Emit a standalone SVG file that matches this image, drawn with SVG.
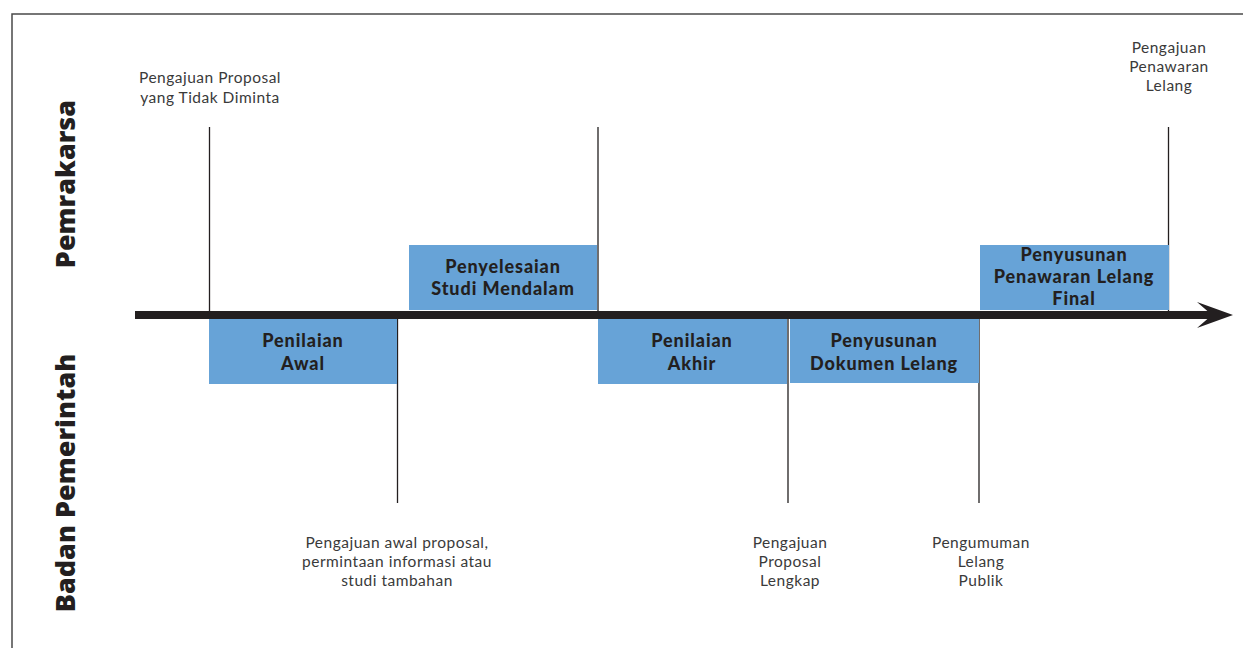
<svg xmlns="http://www.w3.org/2000/svg" width="1243" height="648" viewBox="0 0 1243 648">
<style>
.frame{fill:none;stroke:#4a4a4a;stroke-width:1.5}
.box{fill:#67a3d7}
.tick{stroke:#231f20;stroke-width:1.3}
.bt{font-family:Lato,"Open Sans",sans-serif;font-weight:900;font-size:18px;letter-spacing:0.9px;fill:#231f20;text-anchor:middle}
.st{font-family:Lato,"Open Sans",sans-serif;font-size:15.5px;letter-spacing:0.5px;fill:#3a3a3a;text-anchor:middle}
.side{font-family:"Open Sans","Noto Sans",sans-serif;font-weight:800;font-size:27px;fill:#231f20;text-anchor:middle}
</style>
<rect width="1243" height="648" fill="#fff"/>
<path class="frame" d="M12,650 V14 H1245"/>
<text class="side" transform="translate(75,184) rotate(-90)">Pemrakarsa</text>
<text class="side" transform="translate(75,483) rotate(-90)">Badan Pemerintah</text>
<g id="connectors">
<line class="tick" x1="209.5" y1="127" x2="209.5" y2="311"/>
<line class="tick" x1="598" y1="127" x2="598" y2="311"/>
<line class="tick" x1="1168.5" y1="127" x2="1168.5" y2="311"/>
<line class="tick" x1="397.5" y1="319" x2="397.5" y2="503"/>
<line class="tick" x1="788" y1="319" x2="788" y2="503"/>
<line class="tick" x1="979" y1="319" x2="979" y2="503"/>
<rect x="135" y="311" width="1082" height="8" fill="#231f20"/>
<path d="M1233,315 L1197,302 L1212,315 L1197,328 Z" fill="#231f20"/>
</g>
<g id="penilaian-awal">
<rect class="box" x="209" y="319" width="188" height="65"/>
<text class="bt" x="303" y="347">Penilaian</text>
<text class="bt" x="303" y="370">Awal</text>
</g>
<g id="penyelesaian-studi">
<rect class="box" x="409" y="245" width="188" height="65"/>
<text class="bt" x="503" y="273">Penyelesaian</text>
<text class="bt" x="503" y="295">Studi Mendalam</text>
</g>
<g id="penilaian-akhir">
<rect class="box" x="598" y="319" width="189" height="65"/>
<text class="bt" x="692" y="347">Penilaian</text>
<text class="bt" x="692" y="370">Akhir</text>
</g>
<g id="penyusunan-dokumen">
<rect class="box" x="790" y="319" width="189" height="64"/>
<text class="bt" x="884" y="347">Penyusunan</text>
<text class="bt" x="884" y="370">Dokumen Lelang</text>
</g>
<g id="penyusunan-penawaran">
<rect class="box" x="980" y="245" width="189" height="65"/>
<text class="bt" x="1074" y="261">Penyusunan</text>
<text class="bt" x="1074" y="283">Penawaran Lelang</text>
<text class="bt" x="1074" y="305">Final</text>
</g>
<g id="label-proposal-tidak-diminta">
<text class="st" x="210" y="83">Pengajuan Proposal</text>
<text class="st" x="210" y="103">yang Tidak Diminta</text>
</g>
<g id="label-penawaran-lelang">
<text class="st" x="1169" y="53">Pengajuan</text>
<text class="st" x="1169" y="72">Penawaran</text>
<text class="st" x="1169" y="91">Lelang</text>
</g>
<g id="label-pengajuan-awal">
<text class="st" x="397" y="548">Pengajuan awal proposal,</text>
<text class="st" x="397" y="567">permintaan informasi atau</text>
<text class="st" x="397" y="586">studi tambahan</text>
</g>
<g id="label-proposal-lengkap">
<text class="st" x="790" y="548">Pengajuan</text>
<text class="st" x="790" y="567">Proposal</text>
<text class="st" x="790" y="586">Lengkap</text>
</g>
<g id="label-pengumuman">
<text class="st" x="981" y="548">Pengumuman</text>
<text class="st" x="981" y="567">Lelang</text>
<text class="st" x="981" y="586">Publik</text>
</g>
</svg>
